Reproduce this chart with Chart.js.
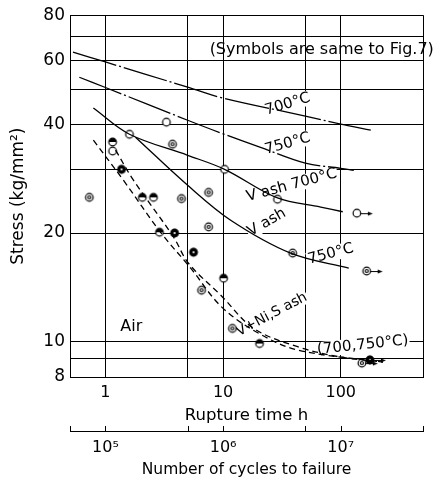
<!DOCTYPE html>
<html><head><meta charset="utf-8">
<script src="https://cdn.jsdelivr.net/npm/chart.js@4/dist/chart.umd.min.js"></script>
<style>html,body{margin:0;padding:0;background:#fff}</style>
</head><body>
<canvas id="c" width="436" height="483"></canvas>
<script>
// ---- axes ----
const hourTicks = [0.5, 1, 5, 10, 50, 100, 500];
const hourLabels = {1: '1', 10: '10', 100: '100'};
const cycleTicks = [5e4, 1e5, 5e5, 1e6, 5e6, 1e7, 5e7];
const cycleLabels = {100000: '10⁵', 1000000: '10⁶', 10000000: '10⁷'};
const stressTicks = [8, 9, 10, 20, 30, 40, 50, 60, 70, 80];
const stressLabels = {8: '8', 10: '10', 20: '20', 40: '40', 60: '60', 80: '80'};

// ---- curves (rupture time h, stress kg/mm2) ----
const c700Hours  = [0.53, 1, 5, 10, 50, 100, 180];
const c700Stress = [63.2, 59.4, 50.6, 47.2, 42.1, 40.0, 38.5];
const c750Hours  = [0.6, 1, 5, 10, 20.8, 50, 100, 129];
const c750Stress = [53.9, 50.5, 41.0, 37.6, 34.5, 31.2, 30.2, 29.8];
const vash700Hours  = [0.79, 1.6, 5, 10.3, 29, 67.6, 104];
const vash700Stress = [44.3, 37.5, 32.8, 30.0, 25.0, 23.6, 22.9];
const vash750Hours  = [1.8, 5, 11.6, 37.5, 117];
const vash750Stress = [36.8, 27.1, 21.7, 17.6, 16.0];
const nisLowHours   = [0.79, 1.42, 2.94, 5.3, 9.7, 19.7, 43, 228];
const nisLowStress  = [36.1, 28.0, 20.1, 16.0, 12.5, 10.6, 9.5, 8.8];
const nisHighHours  = [1.22, 1.73, 3.79, 5.08, 9.7, 18.2, 43, 100, 228];
const nisHighStress = [33.9, 28.0, 19.5, 16.5, 13.4, 10.9, 9.7, 9.08, 8.8];

// ---- test points ----
const openHours    = [3.3, 1.6, 1.15, 10.3, 29];
const openStress   = [40.5, 37.5, 33.7, 30.0, 24.8];
const doubleHours  = [3.72, 0.73, 4.43, 7.53, 7.53, 39, 6.56, 12.0];
const doubleStress = [35.2, 25.1, 24.9, 25.9, 20.8, 17.6, 13.9, 10.9];
const halfHours    = [1.15, 2.06, 2.56, 2.88, 10.1, 20.4];
const halfStress   = [35.7, 25.1, 25.1, 20.1, 15.0, 9.9];
const darkHours    = [1.37, 3.87, 5.61];
const darkStress   = [30.0, 20.0, 17.7];
// run-outs (not broken)
const openRunHours    = [137];
const openRunStress   = [22.7];
const doubleRunHours  = [166, 151];
const doubleRunStress = [15.7, 8.74];
const darkRunHours    = [177];
const darkRunStress   = [8.92];

const pts = (xs, ys) => xs.map((x, i) => ({x, y: ys[i]}));

function makeSym(type, arrow) {
  const r = 3.8, W = arrow ? 36 : 12, H = 12;
  const c = document.createElement('canvas'); c.width = W; c.height = H;
  const g = c.getContext('2d'); const cx = W / 2, cy = H / 2;
  g.lineWidth = 1.2; g.strokeStyle = '#000'; g.fillStyle = '#fff';
  g.beginPath(); g.arc(cx, cy, r, 0, 2 * Math.PI); g.fill(); g.stroke();
  if (type === 'double') { g.beginPath(); g.arc(cx, cy, 1.5, 0, 2 * Math.PI); g.stroke(); }
  if (type === 'half') { g.beginPath(); g.arc(cx, cy, r, Math.PI, 2 * Math.PI); g.closePath(); g.fillStyle = '#000'; g.fill(); }
  if (type === 'dark') { g.fillStyle = '#000'; g.beginPath(); g.arc(cx, cy, r + 0.4, 0, 2 * Math.PI); g.fill(); g.fillStyle = '#fff'; g.beginPath(); g.arc(cx, cy, 1.1, 0, 2 * Math.PI); g.fill(); }
  if (arrow) {
    g.strokeStyle = '#000'; g.lineWidth = 1;
    g.beginPath(); g.moveTo(cx + r, cy + 0.5); g.lineTo(cx + 14, cy + 0.5); g.stroke();
    g.fillStyle = '#000'; g.beginPath(); g.moveTo(cx + 16, cy + 0.5); g.lineTo(cx + 11, cy - 1.5); g.lineTo(cx + 11, cy + 2.5); g.closePath(); g.fill();
  }
  return c;
}

const FONT = "'DejaVu Sans', sans-serif";
Chart.defaults.font.family = FONT;
Chart.defaults.color = '#000';

const textLabels = [
  {text: '(Symbols are same to Fig.7)', x: 68.9, y: 64.0, angle: 0, size: 16, bg: false},
  {text: '700°C', x: 35.4, y: 45.4, angle: -17, size: 15, bg: true},
  {text: '750°C', x: 35.4, y: 35.3, angle: -16, size: 15, bg: true},
  {text: 'V ash 700°C', x: 38.3, y: 27.1, angle: -15, size: 15, bg: true},
  {text: 'V ash', x: 23.5, y: 21.4, angle: -30, size: 15, bg: true},
  {text: '750°C', x: 82.2, y: 17.5, angle: -15, size: 15, bg: true},
  {text: 'V+Ni,S ash', x: 25.9, y: 11.9, angle: -28, size: 14, bg: true},
  {text: '(700,750°C)', x: 154, y: 9.8, angle: -6, size: 15, bg: true},
  {text: 'Air', x: 1.66, y: 11.0, angle: 0, size: 16, bg: false}
];

const annot = {
  id: 'annot',
  beforeDatasetsDraw(chart) {
    const ctx = chart.ctx, xs = chart.scales.x, ys = chart.scales.y;
    textLabels.forEach(l => {
      const px = xs.getPixelForValue(l.x), py = ys.getPixelForValue(l.y);
      ctx.save();
      ctx.translate(px, py); ctx.rotate(l.angle * Math.PI / 180);
      ctx.font = l.size + 'px ' + FONT;
      const w = ctx.measureText(l.text).width;
      if (l.bg) { ctx.fillStyle = '#fff'; ctx.fillRect(-w / 2 - 1, -l.size * 0.5, w + 2, l.size * 1.0); }
      ctx.fillStyle = '#000'; ctx.textAlign = 'center'; ctx.textBaseline = 'middle';
      ctx.fillText(l.text, 0, 0);
      ctx.restore();
    });
  },
  afterDraw(chart) {
    const ctx = chart.ctx, x2 = chart.scales.x2;
    ctx.save(); ctx.strokeStyle = '#000'; ctx.lineWidth = 1;
    x2.ticks.forEach(t => {
      const px = Math.round(x2.getPixelForValue(t.value)) + 0.5;
      ctx.beginPath(); ctx.moveTo(px, x2.top); ctx.lineTo(px, x2.top - 5); ctx.stroke();
    });
    ctx.restore();
  }
};

const lineDs = (xs, ys, dash) => ({
  data: pts(xs, ys), showLine: true, pointRadius: 0, borderColor: '#000', borderWidth: 1.3,
  borderDash: dash, tension: 0.35, fill: false
});
const ptDs = (xs, ys, sym) => ({
  data: pts(xs, ys), showLine: false, pointStyle: sym, pointRadius: 5, borderColor: '#000', backgroundColor: '#fff'
});

new Chart(document.getElementById('c'), {
  type: 'scatter',
  data: {
    datasets: [
      lineDs(c700Hours, c700Stress, [45, 3, 2, 3]),
      lineDs(c750Hours, c750Stress, [45, 3, 2, 3]),
      lineDs(vash700Hours, vash700Stress, []),
      lineDs(vash750Hours, vash750Stress, []),
      lineDs(nisLowHours, nisLowStress, [6, 4]),
      lineDs(nisHighHours, nisHighStress, [6, 4]),
      ptDs(openHours, openStress, makeSym('open', false)),
      ptDs(doubleHours, doubleStress, makeSym('double', false)),
      ptDs(halfHours, halfStress, makeSym('half', false)),
      ptDs(darkHours, darkStress, makeSym('dark', false)),
      ptDs(openRunHours, openRunStress, makeSym('open', true)),
      ptDs(doubleRunHours, doubleRunStress, makeSym('double', true)),
      ptDs(darkRunHours, darkRunStress, makeSym('dark', true))
    ]
  },
  options: {
    responsive: false, animation: false, devicePixelRatio: 1,
    layout: {padding: {top: 15, right: 13, left: 0, bottom: 0}},
    plugins: {legend: {display: false}, tooltip: {enabled: false}},
    scales: {
      x: {
        type: 'logarithmic', position: 'bottom', weight: 0, min: 0.5, max: 500,
        afterBuildTicks: s => { s.ticks = hourTicks.map(v => ({value: v})); },
        afterFit: s => { s.height = 54; },
        grid: {color: '#000', lineWidth: 1, drawTicks: false},
        border: {color: '#000', width: 1},
        ticks: {autoSkip: false, maxRotation: 0, padding: 6, font: {size: 16}, callback: v => hourLabels[v] || ''},
        title: {display: true, text: 'Rupture time h', font: {size: 16.5}, padding: {top: 0, bottom: 5}}
      },
      x2: {
        type: 'logarithmic', position: 'bottom', weight: 1, min: 5e4, max: 5e7,
        afterBuildTicks: s => { s.ticks = cycleTicks.map(v => ({value: v})); },
        afterFit: s => { s.height = 52; },
        grid: {display: false, drawTicks: false},
        border: {display: true, color: '#000', width: 1},
        ticks: {autoSkip: false, maxRotation: 0, padding: 7, font: {size: 16}, callback: v => cycleLabels[v] || ''},
        title: {display: true, text: 'Number of cycles to failure', font: {size: 15.5}, padding: {top: 0, bottom: 4}}
      },
      y: {
        type: 'logarithmic', min: 8, max: 80,
        afterBuildTicks: s => { s.ticks = stressTicks.map(v => ({value: v})); },
        afterFit: s => { s.width = 70; },
        grid: {color: '#000', lineWidth: 1, drawTicks: false},
        border: {color: '#000', width: 1},
        ticks: {autoSkip: false, padding: 5, font: {size: 17}, callback: v => stressLabels[v] || ''},
        title: {display: true, text: 'Stress (kg/mm²)', font: {size: 17}, padding: {top: 8, bottom: 0}}
      }
    }
  },
  plugins: [annot]
});
</script>
</body></html>
